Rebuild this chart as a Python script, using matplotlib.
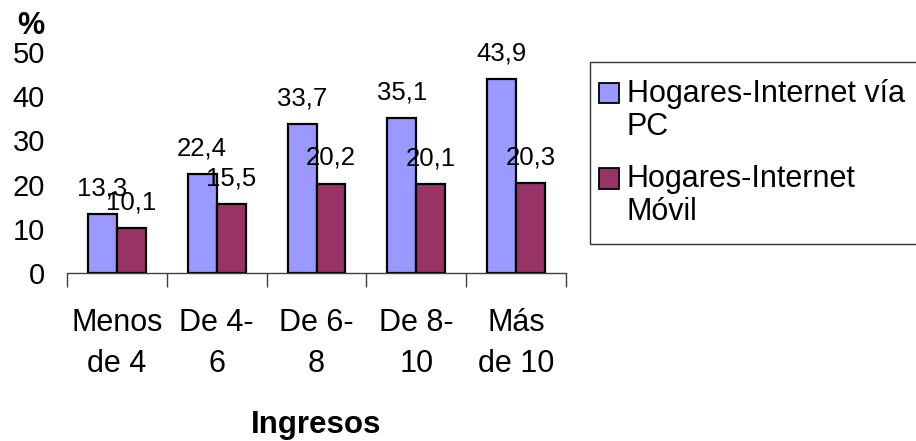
import matplotlib.pyplot as plt
import matplotlib as mpl
import matplotlib.patches as mpatches
from matplotlib.container import BarContainer
from matplotlib.legend_handler import HandlerPatch, update_from_first_child
import numpy as np

mpl.rcParams['font.family'] = ['Liberation Sans', 'DejaVu Sans']

categories = ["Menos\nde 4", "De 4-\n6", "De 6-\n8", "De 8-\n10", "Más\nde 10"]
pc_vals = [13.3, 22.4, 33.7, 35.1, 43.9]
movil_vals = [10.1, 15.5, 20.2, 20.1, 20.3]
series_names = ["Hogares-Internet vía\nPC", "Hogares-Internet\nMóvil"]
colors = ["#9999FF", "#993366"]

W, H = 916, 441
fig = plt.figure(figsize=(W / 100, H / 100), dpi=100)
ax = fig.add_axes([67 / W, 168 / H, 499 / W, 221 / H])

x = np.arange(len(categories))
w = 0.29
b1 = ax.bar(x - w / 2, pc_vals, w, color=colors[0], edgecolor='black',
            linewidth=1.6, label=series_names[0])
b2 = ax.bar(x + w / 2, movil_vals, w, color=colors[1], edgecolor='black',
            linewidth=1.6, label=series_names[1])

for bars, vals in ((b1, pc_vals), (b2, movil_vals)):
    for r, v in zip(bars, vals):
        ax.annotate(f"{v:.1f}".replace('.', ','),
                    (r.get_x() + r.get_width() / 2, v),
                    xytext=(0, 13.5), textcoords='offset points',
                    ha='center', va='baseline', fontsize=18.5)

ax.set_xlim(-0.5, len(categories) - 0.5)
ax.set_ylim(0, 50)
ax.set_yticks(range(0, 51, 10))
ax.tick_params(axis='y', length=0, labelsize=21, pad=16)

ax.set_xticks(x)
ax.set_xticklabels(categories, fontsize=22, linespacing=1.5)
ax.set_xticks(np.arange(-0.5, len(categories)), minor=True)
ax.tick_params(axis='x', which='major', length=0, pad=25)
ax.tick_params(axis='x', which='minor', length=10, width=1, color='#404040')

for s in ('top', 'right', 'left'):
    ax.spines[s].set_visible(False)
ax.spines['bottom'].set_color('#404040')
ax.spines['bottom'].set_linewidth(1)

ax.set_xlabel("Ingresos", fontsize=22.5, fontweight='bold', labelpad=22)
fig.text(31 / W, 1 - 26 / H, "%", fontsize=22, fontweight='bold',
         ha='center', va='center')


# square legend keys sitting on the first line of each two-line label
def top_square(legend, orig_handle, xdescent, ydescent, width, height, fontsize):
    side = 0.66 * fontsize
    return mpatches.Rectangle((-xdescent - 0.26 * fontsize,
                               -ydescent + 0.56 * fontsize), side, side)


key_handler = HandlerPatch(patch_func=top_square, update_func=update_from_first_child)
leg = fig.legend(loc='upper left', bbox_to_anchor=(590 / W, 1 - 62 / H),
                 bbox_transform=fig.transFigure, borderaxespad=0,
                 fontsize=22, frameon=True, fancybox=False,
                 handlelength=0.65, handleheight=0.55, handletextpad=0.0,
                 labelspacing=0.75, borderpad=0.55,
                 handler_map={BarContainer: key_handler})
leg.get_frame().set_edgecolor('black')
leg.get_frame().set_linewidth(1)
for t in leg.get_texts():
    t.set_linespacing(1.12)
for p in leg.get_patches():
    p.set_linewidth(1.3)

fig.savefig("out.png", dpi=100)
